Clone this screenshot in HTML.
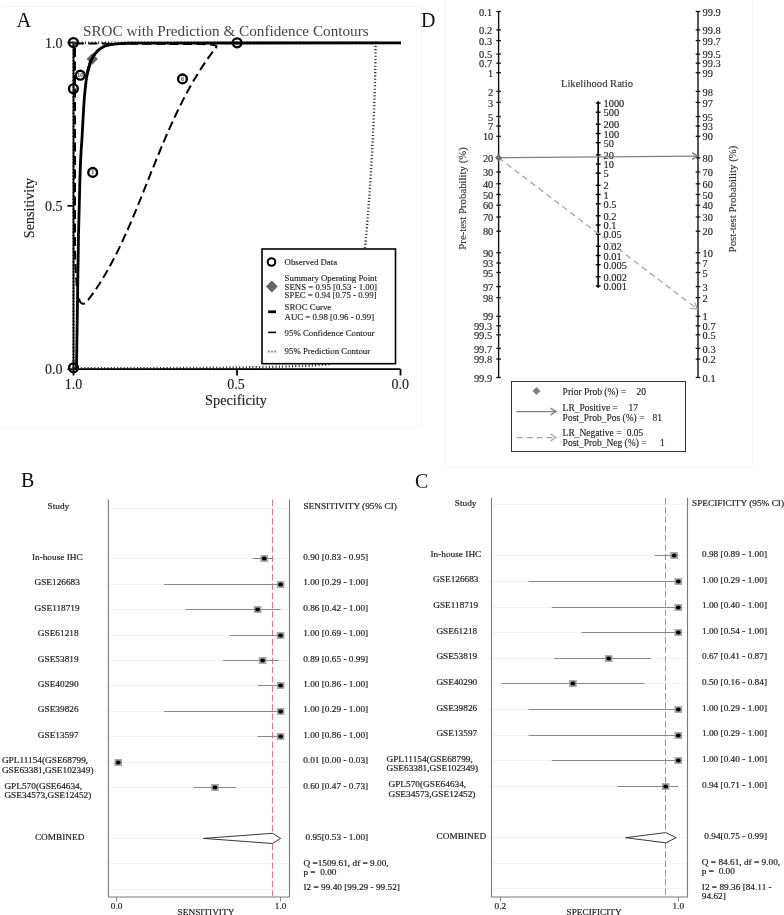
<!DOCTYPE html>
<html><head><meta charset="utf-8"><style>
html,body{margin:0;padding:0;background:#fff;width:784px;height:915px;overflow:hidden}
svg{display:block;position:absolute;left:0;top:0;will-change:transform}
text{font-family:"Liberation Serif", serif;white-space:pre;}
</style></head><body>
<svg width="784" height="915" viewBox="0 0 784 915">
<rect x="0" y="0" width="784" height="915" fill="#fff"/>
<path d="M0.5 6.5 H421.5 V427.5 H0.5" fill="none" stroke="#f6f6f6" stroke-width="1"/>
<path d="M444.5 0 V467 H752.5 V0" fill="none" stroke="#f6f6f6" stroke-width="1"/>
<text x="16.5" y="27" font-size="20.5" fill="#111">A</text>
<text x="83" y="35.5" font-size="15.2" fill="#444">SROC with Prediction &amp; Confidence Contours</text>
<path d="M73.5 368 L73.5 42.8 L375.5 42.8 C375.8 100 370 200 365 247 C360 300 352 345 330 364 C300 367.6 200 368.2 73.5 368.3" fill="none" stroke="#333" stroke-width="2.4" stroke-dasharray="1.1 2.2"/>
<path d="M73.5 42.5 V369.2 H400.5" fill="none" stroke="#000" stroke-width="1.8"/>
<path d="M67.5 42.5 H73.5" stroke="#000" stroke-width="1.8"/>
<path d="M67.5 205.8 H73.5" stroke="#000" stroke-width="1.8"/>
<path d="M67.5 369.2 H73.5" stroke="#000" stroke-width="1.8"/>
<path d="M73.5 369.2 V375.5" stroke="#000" stroke-width="1.8"/>
<path d="M237.0 369.2 V375.5" stroke="#000" stroke-width="1.8"/>
<path d="M400.5 369.2 V375.5" stroke="#000" stroke-width="1.8"/>
<text stroke="#222" stroke-width="0.14" x="62.5" y="47.5" font-size="14" text-anchor="end" fill="#222">1.0</text>
<text stroke="#222" stroke-width="0.14" x="62.5" y="210.8" font-size="14" text-anchor="end" fill="#222">0.5</text>
<text stroke="#222" stroke-width="0.14" x="62.5" y="374.2" font-size="14" text-anchor="end" fill="#222">0.0</text>
<text stroke="#222" stroke-width="0.14" x="73.5" y="388.8" font-size="14" text-anchor="middle" fill="#222">1.0</text>
<text stroke="#222" stroke-width="0.14" x="236.0" y="388.8" font-size="14" text-anchor="middle" fill="#222">0.5</text>
<text stroke="#222" stroke-width="0.14" x="400.2" y="388.8" font-size="14" text-anchor="middle" fill="#222">0.0</text>
<text stroke="#222" stroke-width="0.14" x="236" y="404.7" font-size="14.3" text-anchor="middle" fill="#222">Specificity</text>
<text stroke="#222" stroke-width="0.14" transform="translate(34.3 208) rotate(-90)" font-size="14.1" text-anchor="middle" fill="#222">Sensitivity</text>
<path d="M77 290 C76 275 75 262 75 245 L75 43.5 L200 44 C210 44.4 219.5 44.8 215.8 47.8 C156.5 123.5 140 234 86.8 301.7 C85 304 82 304.6 80.3 302 C79 300 78.3 295 77.6 289" fill="none" stroke="#000" stroke-width="2" stroke-dasharray="9 4.5" stroke-dashoffset="10"/>
<path d="M76.5 369 C77.2 320 77.8 280 78.5 235 C79 210 79.5 195 79.9 180 C80.5 160 81 150 81.9 140 C83 120 83.7 105 84.5 96 C85.3 88 86 80 87.2 74.3 C88 70 88.5 68 89.1 66.6 C90 63 90.8 61 91.8 59 C93 56.5 94 55 95.2 53.6 C96.5 52 98 50.3 99.8 49 C101.5 47.7 103 47 104.4 46.3 C106 45.6 108 45 109.8 44.8 C113 44.2 116 43.9 119.7 43.7 C123 43.4 127 43.3 130 43.2 L401 42.8" fill="none" stroke="#000" stroke-width="2.8"/>
<circle cx="73.4" cy="42.5" r="4.4" fill="none" stroke="#000" stroke-width="2.4"/>
<text stroke="#333" stroke-width="0.14" x="73.4" y="44.5" font-size="6" text-anchor="middle" fill="#333">9</text>
<circle cx="80.3" cy="75.2" r="4.4" fill="none" stroke="#000" stroke-width="2.4"/>
<text stroke="#333" stroke-width="0.14" x="80.3" y="77.2" font-size="6" text-anchor="middle" fill="#333">10</text>
<circle cx="73.4" cy="88.8" r="4.4" fill="none" stroke="#000" stroke-width="2.4"/>
<text stroke="#333" stroke-width="0.14" x="73.4" y="90.8" font-size="6" text-anchor="middle" fill="#333">3</text>
<circle cx="92.7" cy="172.4" r="4.4" fill="none" stroke="#000" stroke-width="2.4"/>
<text stroke="#333" stroke-width="0.14" x="92.7" y="174.4" font-size="6" text-anchor="middle" fill="#333">1</text>
<circle cx="182.5" cy="78.9" r="4.4" fill="none" stroke="#000" stroke-width="2.4"/>
<text stroke="#333" stroke-width="0.14" x="182.5" y="80.9" font-size="6" text-anchor="middle" fill="#333">6</text>
<circle cx="237.1" cy="42.8" r="4.4" fill="none" stroke="#000" stroke-width="2.4"/>
<text stroke="#333" stroke-width="0.14" x="237.1" y="44.8" font-size="6" text-anchor="middle" fill="#333">5</text>
<circle cx="73.5" cy="367.8" r="4.4" fill="none" stroke="#000" stroke-width="2.4"/>
<text stroke="#333" stroke-width="0.14" x="73.5" y="369.8" font-size="6" text-anchor="middle" fill="#333">8</text>
<path d="M92.2 53.3 L97.9 59 L92.2 64.7 L86.5 59 Z" fill="#666"/>
<path d="M87.2 74.3 C88 70 88.5 68 89.1 66.6 C90 63 90.8 61 91.8 59 C93 56.5 94 55 95.2 53.6" fill="none" stroke="#000" stroke-width="2.8"/>
<rect x="262" y="249" width="133.5" height="114.7" fill="#fff" stroke="#000" stroke-width="1.6"/>
<circle cx="271.5" cy="262" r="3.8" fill="#fff" stroke="#000" stroke-width="2"/>
<path d="M271.8 280.5 L277.8 286.5 L271.8 292.5 L265.8 286.5 Z" fill="#666"/>
<path d="M268.2 311.8 H276" stroke="#000" stroke-width="2.8"/>
<path d="M268.2 332.4 H276" stroke="#000" stroke-width="1.6"/>
<path d="M268.2 351.6 H276" stroke="#555" stroke-width="2" stroke-dasharray="1.2 2"/>
<text stroke="#222" stroke-width="0.14" x="284.6" y="264.5" font-size="8.8" fill="#222">Observed Data</text>
<text stroke="#222" stroke-width="0.14" x="284.6" y="280.8" font-size="8.8" fill="#222">Summary Operating Point</text>
<text stroke="#222" stroke-width="0.14" x="284.6" y="289.6" font-size="8.8" fill="#222">SENS = 0.95 [0.53 - 1.00]</text>
<text stroke="#222" stroke-width="0.14" x="284.6" y="298.3" font-size="8.8" fill="#222">SPEC = 0.94 [0.75 - 0.99]</text>
<text stroke="#222" stroke-width="0.14" x="284.6" y="310.4" font-size="8.8" fill="#222">SROC Curve</text>
<text stroke="#222" stroke-width="0.14" x="284.6" y="319.5" font-size="8.8" fill="#222">AUC = 0.98 [0.96 - 0.99]</text>
<text stroke="#222" stroke-width="0.14" x="284.6" y="335.5" font-size="8.8" fill="#222">95% Confidence Contour</text>
<text stroke="#222" stroke-width="0.14" x="284.6" y="354.4" font-size="8.8" fill="#222">95% Prediction Contour</text>
<text x="421" y="27" font-size="20" fill="#111">D</text>
<path d="M498.6 11.5 V377.5" stroke="#111" stroke-width="1.4"/>
<path d="M698.0 11.5 V377.5" stroke="#111" stroke-width="1.4"/>
<path d="M496.3 11.5 H500.90000000000003" stroke="#111" stroke-width="1.3"/>
<text stroke="#222" stroke-width="0.14" x="492.1" y="15.6" font-size="10.4" text-anchor="end" fill="#222">0.1</text>
<path d="M695.7 377.5 H700.3" stroke="#111" stroke-width="1.3"/>
<text stroke="#222" stroke-width="0.14" x="702.6" y="381.6" font-size="10.4" fill="#222">0.1</text>
<path d="M496.3 29.9 H500.90000000000003" stroke="#111" stroke-width="1.3"/>
<text stroke="#222" stroke-width="0.14" x="492.1" y="34.0" font-size="10.4" text-anchor="end" fill="#222">0.2</text>
<path d="M695.7 359.1 H700.3" stroke="#111" stroke-width="1.3"/>
<text stroke="#222" stroke-width="0.14" x="702.6" y="363.2" font-size="10.4" fill="#222">0.2</text>
<path d="M496.3 40.6 H500.90000000000003" stroke="#111" stroke-width="1.3"/>
<text stroke="#222" stroke-width="0.14" x="492.1" y="44.7" font-size="10.4" text-anchor="end" fill="#222">0.3</text>
<path d="M695.7 348.4 H700.3" stroke="#111" stroke-width="1.3"/>
<text stroke="#222" stroke-width="0.14" x="702.6" y="352.5" font-size="10.4" fill="#222">0.3</text>
<path d="M496.3 54.2 H500.90000000000003" stroke="#111" stroke-width="1.3"/>
<text stroke="#222" stroke-width="0.14" x="492.1" y="58.3" font-size="10.4" text-anchor="end" fill="#222">0.5</text>
<path d="M695.7 334.8 H700.3" stroke="#111" stroke-width="1.3"/>
<text stroke="#222" stroke-width="0.14" x="702.6" y="338.9" font-size="10.4" fill="#222">0.5</text>
<path d="M496.3 63.2 H500.90000000000003" stroke="#111" stroke-width="1.3"/>
<text stroke="#222" stroke-width="0.14" x="492.1" y="67.3" font-size="10.4" text-anchor="end" fill="#222">0.7</text>
<path d="M695.7 325.8 H700.3" stroke="#111" stroke-width="1.3"/>
<text stroke="#222" stroke-width="0.14" x="702.6" y="329.9" font-size="10.4" fill="#222">0.7</text>
<path d="M496.3 72.7 H500.90000000000003" stroke="#111" stroke-width="1.3"/>
<text stroke="#222" stroke-width="0.14" x="493.3" y="76.8" font-size="10.4" text-anchor="end" fill="#222">1</text>
<path d="M695.7 316.3 H700.3" stroke="#111" stroke-width="1.3"/>
<text stroke="#222" stroke-width="0.14" x="702.6" y="320.4" font-size="10.4" fill="#222">1</text>
<path d="M496.3 91.4 H500.90000000000003" stroke="#111" stroke-width="1.3"/>
<text stroke="#222" stroke-width="0.14" x="493.3" y="95.5" font-size="10.4" text-anchor="end" fill="#222">2</text>
<path d="M695.7 297.6 H700.3" stroke="#111" stroke-width="1.3"/>
<text stroke="#222" stroke-width="0.14" x="702.6" y="301.7" font-size="10.4" fill="#222">2</text>
<path d="M496.3 102.4 H500.90000000000003" stroke="#111" stroke-width="1.3"/>
<text stroke="#222" stroke-width="0.14" x="493.3" y="106.5" font-size="10.4" text-anchor="end" fill="#222">3</text>
<path d="M695.7 286.6 H700.3" stroke="#111" stroke-width="1.3"/>
<text stroke="#222" stroke-width="0.14" x="702.6" y="290.7" font-size="10.4" fill="#222">3</text>
<path d="M496.3 116.5 H500.90000000000003" stroke="#111" stroke-width="1.3"/>
<text stroke="#222" stroke-width="0.14" x="493.3" y="120.6" font-size="10.4" text-anchor="end" fill="#222">5</text>
<path d="M695.7 272.5 H700.3" stroke="#111" stroke-width="1.3"/>
<text stroke="#222" stroke-width="0.14" x="702.6" y="276.6" font-size="10.4" fill="#222">5</text>
<path d="M496.3 126.0 H500.90000000000003" stroke="#111" stroke-width="1.3"/>
<text stroke="#222" stroke-width="0.14" x="493.3" y="130.1" font-size="10.4" text-anchor="end" fill="#222">7</text>
<path d="M695.7 263.0 H700.3" stroke="#111" stroke-width="1.3"/>
<text stroke="#222" stroke-width="0.14" x="702.6" y="267.1" font-size="10.4" fill="#222">7</text>
<path d="M496.3 136.3 H500.90000000000003" stroke="#111" stroke-width="1.3"/>
<text stroke="#222" stroke-width="0.14" x="493.3" y="140.4" font-size="10.4" text-anchor="end" fill="#222">10</text>
<path d="M695.7 252.7 H700.3" stroke="#111" stroke-width="1.3"/>
<text stroke="#222" stroke-width="0.14" x="702.6" y="256.8" font-size="10.4" fill="#222">10</text>
<path d="M496.3 157.8 H500.90000000000003" stroke="#111" stroke-width="1.3"/>
<text stroke="#222" stroke-width="0.14" x="493.3" y="161.9" font-size="10.4" text-anchor="end" fill="#222">20</text>
<path d="M695.7 231.2 H700.3" stroke="#111" stroke-width="1.3"/>
<text stroke="#222" stroke-width="0.14" x="702.6" y="235.3" font-size="10.4" fill="#222">20</text>
<path d="M496.3 172.0 H500.90000000000003" stroke="#111" stroke-width="1.3"/>
<text stroke="#222" stroke-width="0.14" x="493.3" y="176.1" font-size="10.4" text-anchor="end" fill="#222">30</text>
<path d="M695.7 217.0 H700.3" stroke="#111" stroke-width="1.3"/>
<text stroke="#222" stroke-width="0.14" x="702.6" y="221.1" font-size="10.4" fill="#222">30</text>
<path d="M496.3 183.8 H500.90000000000003" stroke="#111" stroke-width="1.3"/>
<text stroke="#222" stroke-width="0.14" x="493.3" y="187.9" font-size="10.4" text-anchor="end" fill="#222">40</text>
<path d="M695.7 205.2 H700.3" stroke="#111" stroke-width="1.3"/>
<text stroke="#222" stroke-width="0.14" x="702.6" y="209.3" font-size="10.4" fill="#222">40</text>
<path d="M496.3 194.5 H500.90000000000003" stroke="#111" stroke-width="1.3"/>
<text stroke="#222" stroke-width="0.14" x="493.3" y="198.6" font-size="10.4" text-anchor="end" fill="#222">50</text>
<path d="M695.7 194.5 H700.3" stroke="#111" stroke-width="1.3"/>
<text stroke="#222" stroke-width="0.14" x="702.6" y="198.6" font-size="10.4" fill="#222">50</text>
<path d="M496.3 205.2 H500.90000000000003" stroke="#111" stroke-width="1.3"/>
<text stroke="#222" stroke-width="0.14" x="493.3" y="209.3" font-size="10.4" text-anchor="end" fill="#222">60</text>
<path d="M695.7 183.8 H700.3" stroke="#111" stroke-width="1.3"/>
<text stroke="#222" stroke-width="0.14" x="702.6" y="187.9" font-size="10.4" fill="#222">60</text>
<path d="M496.3 217.0 H500.90000000000003" stroke="#111" stroke-width="1.3"/>
<text stroke="#222" stroke-width="0.14" x="493.3" y="221.1" font-size="10.4" text-anchor="end" fill="#222">70</text>
<path d="M695.7 172.0 H700.3" stroke="#111" stroke-width="1.3"/>
<text stroke="#222" stroke-width="0.14" x="702.6" y="176.1" font-size="10.4" fill="#222">70</text>
<path d="M496.3 231.2 H500.90000000000003" stroke="#111" stroke-width="1.3"/>
<text stroke="#222" stroke-width="0.14" x="493.3" y="235.3" font-size="10.4" text-anchor="end" fill="#222">80</text>
<path d="M695.7 157.8 H700.3" stroke="#111" stroke-width="1.3"/>
<text stroke="#222" stroke-width="0.14" x="702.6" y="161.9" font-size="10.4" fill="#222">80</text>
<path d="M496.3 252.7 H500.90000000000003" stroke="#111" stroke-width="1.3"/>
<text stroke="#222" stroke-width="0.14" x="493.3" y="256.8" font-size="10.4" text-anchor="end" fill="#222">90</text>
<path d="M695.7 136.3 H700.3" stroke="#111" stroke-width="1.3"/>
<text stroke="#222" stroke-width="0.14" x="702.6" y="140.4" font-size="10.4" fill="#222">90</text>
<path d="M496.3 263.0 H500.90000000000003" stroke="#111" stroke-width="1.3"/>
<text stroke="#222" stroke-width="0.14" x="493.3" y="267.1" font-size="10.4" text-anchor="end" fill="#222">93</text>
<path d="M695.7 126.0 H700.3" stroke="#111" stroke-width="1.3"/>
<text stroke="#222" stroke-width="0.14" x="702.6" y="130.1" font-size="10.4" fill="#222">93</text>
<path d="M496.3 272.5 H500.90000000000003" stroke="#111" stroke-width="1.3"/>
<text stroke="#222" stroke-width="0.14" x="493.3" y="276.6" font-size="10.4" text-anchor="end" fill="#222">95</text>
<path d="M695.7 116.5 H700.3" stroke="#111" stroke-width="1.3"/>
<text stroke="#222" stroke-width="0.14" x="702.6" y="120.6" font-size="10.4" fill="#222">95</text>
<path d="M496.3 286.6 H500.90000000000003" stroke="#111" stroke-width="1.3"/>
<text stroke="#222" stroke-width="0.14" x="493.3" y="290.7" font-size="10.4" text-anchor="end" fill="#222">97</text>
<path d="M695.7 102.4 H700.3" stroke="#111" stroke-width="1.3"/>
<text stroke="#222" stroke-width="0.14" x="702.6" y="106.5" font-size="10.4" fill="#222">97</text>
<path d="M496.3 297.6 H500.90000000000003" stroke="#111" stroke-width="1.3"/>
<text stroke="#222" stroke-width="0.14" x="493.3" y="301.7" font-size="10.4" text-anchor="end" fill="#222">98</text>
<path d="M695.7 91.4 H700.3" stroke="#111" stroke-width="1.3"/>
<text stroke="#222" stroke-width="0.14" x="702.6" y="95.5" font-size="10.4" fill="#222">98</text>
<path d="M496.3 316.3 H500.90000000000003" stroke="#111" stroke-width="1.3"/>
<text stroke="#222" stroke-width="0.14" x="493.3" y="320.4" font-size="10.4" text-anchor="end" fill="#222">99</text>
<path d="M695.7 72.7 H700.3" stroke="#111" stroke-width="1.3"/>
<text stroke="#222" stroke-width="0.14" x="702.6" y="76.8" font-size="10.4" fill="#222">99</text>
<path d="M496.3 325.8 H500.90000000000003" stroke="#111" stroke-width="1.3"/>
<text stroke="#222" stroke-width="0.14" x="492.1" y="329.9" font-size="10.4" text-anchor="end" fill="#222">99.3</text>
<path d="M695.7 63.2 H700.3" stroke="#111" stroke-width="1.3"/>
<text stroke="#222" stroke-width="0.14" x="702.6" y="67.3" font-size="10.4" fill="#222">99.3</text>
<path d="M496.3 334.8 H500.90000000000003" stroke="#111" stroke-width="1.3"/>
<text stroke="#222" stroke-width="0.14" x="492.1" y="338.9" font-size="10.4" text-anchor="end" fill="#222">99.5</text>
<path d="M695.7 54.2 H700.3" stroke="#111" stroke-width="1.3"/>
<text stroke="#222" stroke-width="0.14" x="702.6" y="58.3" font-size="10.4" fill="#222">99.5</text>
<path d="M496.3 348.4 H500.90000000000003" stroke="#111" stroke-width="1.3"/>
<text stroke="#222" stroke-width="0.14" x="492.1" y="352.5" font-size="10.4" text-anchor="end" fill="#222">99.7</text>
<path d="M695.7 40.6 H700.3" stroke="#111" stroke-width="1.3"/>
<text stroke="#222" stroke-width="0.14" x="702.6" y="44.7" font-size="10.4" fill="#222">99.7</text>
<path d="M496.3 359.1 H500.90000000000003" stroke="#111" stroke-width="1.3"/>
<text stroke="#222" stroke-width="0.14" x="492.1" y="363.2" font-size="10.4" text-anchor="end" fill="#222">99.8</text>
<path d="M695.7 29.9 H700.3" stroke="#111" stroke-width="1.3"/>
<text stroke="#222" stroke-width="0.14" x="702.6" y="34.0" font-size="10.4" fill="#222">99.8</text>
<path d="M496.3 377.5 H500.90000000000003" stroke="#111" stroke-width="1.3"/>
<text stroke="#222" stroke-width="0.14" x="492.1" y="381.6" font-size="10.4" text-anchor="end" fill="#222">99.9</text>
<path d="M695.7 11.5 H700.3" stroke="#111" stroke-width="1.3"/>
<text stroke="#222" stroke-width="0.14" x="702.6" y="15.6" font-size="10.4" fill="#222">99.9</text>
<path d="M598.2 101.2 V287.8" stroke="#000" stroke-width="1.7"/>
<path d="M595.8000000000001 103.0 H600.6" stroke="#000" stroke-width="1.4"/>
<text stroke="#222" stroke-width="0.14" x="603.5" y="107.1" font-size="10.4" fill="#222">1000</text>
<path d="M595.8000000000001 112.2 H600.6" stroke="#000" stroke-width="1.4"/>
<text stroke="#222" stroke-width="0.14" x="603.5" y="116.3" font-size="10.4" fill="#222">500</text>
<path d="M595.8000000000001 124.3 H600.6" stroke="#000" stroke-width="1.4"/>
<text stroke="#222" stroke-width="0.14" x="603.5" y="128.4" font-size="10.4" fill="#222">200</text>
<path d="M595.8000000000001 133.5 H600.6" stroke="#000" stroke-width="1.4"/>
<text stroke="#222" stroke-width="0.14" x="603.5" y="137.6" font-size="10.4" fill="#222">100</text>
<path d="M595.8000000000001 142.7 H600.6" stroke="#000" stroke-width="1.4"/>
<text stroke="#222" stroke-width="0.14" x="603.5" y="146.8" font-size="10.4" fill="#222">50</text>
<path d="M595.8000000000001 154.8 H600.6" stroke="#000" stroke-width="1.4"/>
<text stroke="#222" stroke-width="0.14" x="603.5" y="158.9" font-size="10.4" fill="#222">20</text>
<path d="M595.8000000000001 164.0 H600.6" stroke="#000" stroke-width="1.4"/>
<text stroke="#222" stroke-width="0.14" x="603.5" y="168.1" font-size="10.4" fill="#222">10</text>
<path d="M595.8000000000001 173.2 H600.6" stroke="#000" stroke-width="1.4"/>
<text stroke="#222" stroke-width="0.14" x="603.5" y="177.3" font-size="10.4" fill="#222">5</text>
<path d="M595.8000000000001 185.3 H600.6" stroke="#000" stroke-width="1.4"/>
<text stroke="#222" stroke-width="0.14" x="603.5" y="189.4" font-size="10.4" fill="#222">2</text>
<path d="M595.8000000000001 194.5 H600.6" stroke="#000" stroke-width="1.4"/>
<text stroke="#222" stroke-width="0.14" x="603.5" y="198.6" font-size="10.4" fill="#222">1</text>
<path d="M595.8000000000001 203.7 H600.6" stroke="#000" stroke-width="1.4"/>
<text stroke="#222" stroke-width="0.14" x="603.5" y="207.8" font-size="10.4" fill="#222">0.5</text>
<path d="M595.8000000000001 215.8 H600.6" stroke="#000" stroke-width="1.4"/>
<text stroke="#222" stroke-width="0.14" x="603.5" y="219.9" font-size="10.4" fill="#222">0.2</text>
<path d="M595.8000000000001 225.0 H600.6" stroke="#000" stroke-width="1.4"/>
<text stroke="#222" stroke-width="0.14" x="603.5" y="229.1" font-size="10.4" fill="#222">0.1</text>
<path d="M595.8000000000001 234.2 H600.6" stroke="#000" stroke-width="1.4"/>
<text stroke="#222" stroke-width="0.14" x="603.5" y="238.3" font-size="10.4" fill="#222">0.05</text>
<path d="M595.8000000000001 246.3 H600.6" stroke="#000" stroke-width="1.4"/>
<text stroke="#222" stroke-width="0.14" x="603.5" y="250.4" font-size="10.4" fill="#222">0.02</text>
<path d="M595.8000000000001 255.5 H600.6" stroke="#000" stroke-width="1.4"/>
<text stroke="#222" stroke-width="0.14" x="603.5" y="259.6" font-size="10.4" fill="#222">0.01</text>
<path d="M595.8000000000001 264.7 H600.6" stroke="#000" stroke-width="1.4"/>
<text stroke="#222" stroke-width="0.14" x="603.5" y="268.8" font-size="10.4" fill="#222">0.005</text>
<path d="M595.8000000000001 276.8 H600.6" stroke="#000" stroke-width="1.4"/>
<text stroke="#222" stroke-width="0.14" x="603.5" y="280.9" font-size="10.4" fill="#222">0.002</text>
<path d="M595.8000000000001 286.0 H600.6" stroke="#000" stroke-width="1.4"/>
<text stroke="#222" stroke-width="0.14" x="603.5" y="290.1" font-size="10.4" fill="#222">0.001</text>
<text stroke="#333" stroke-width="0.14" x="597" y="87.2" font-size="10.6" text-anchor="middle" fill="#333">Likelihood Ratio</text>
<text stroke="#333" stroke-width="0.14" transform="translate(465.6 198.4) rotate(-90)" font-size="10.8" text-anchor="middle" fill="#333">Pre-test Probability (%)</text>
<text stroke="#333" stroke-width="0.14" transform="translate(736.3 199) rotate(-90)" font-size="10.8" text-anchor="middle" fill="#333">Post-test Probability (%)</text>
<path d="M498.6 157.8 L697.5 156.1" stroke="#808080" stroke-width="1.3"/>
<path d="M692.0 152.6 L697.5 156.1 L692.0 159.6" fill="none" stroke="#808080" stroke-width="1.3"/>
<path d="M498.6 157.8 L697.5 309.1" stroke="#a0a0a0" stroke-width="1.2" stroke-dasharray="6 4"/>
<path d="M694.8 302.7 L697.5 309.1 L690.6 308.3" fill="none" stroke="#a0a0a0" stroke-width="1.2"/>
<path d="M498.6 154.2 L502.20000000000005 157.8 L498.6 161.4 L495.0 157.8 Z" fill="#707070"/>
<rect x="511.5" y="381.5" width="174" height="70" fill="#fff" stroke="#333" stroke-width="1"/>
<path d="M536.5 387 L540.5 391 L536.5 395 L532.5 391 Z" fill="#808080"/>
<path d="M516.6 411.6 H556" stroke="#808080" stroke-width="1.3"/><path d="M550.5 408.1 L556 411.6 L550.5 415.1" fill="none" stroke="#808080" stroke-width="1.3"/>
<path d="M516.6 437.6 H556" stroke="#a0a0a0" stroke-width="1.2" stroke-dasharray="6 4"/><path d="M550.5 434.1 L556 437.6 L550.5 441.1" fill="none" stroke="#a0a0a0" stroke-width="1.2"/>
<text stroke="#222" stroke-width="0.14" x="562.6" y="394.9" font-size="9.5" fill="#222">Prior Prob (%) =</text>
<text stroke="#222" stroke-width="0.14" x="636.6" y="394.9" font-size="9.5" fill="#222">20</text>
<text stroke="#222" stroke-width="0.14" x="562.6" y="410.6" font-size="9.5" fill="#222">LR_Positive =</text>
<text stroke="#222" stroke-width="0.14" x="628.6" y="410.6" font-size="9.5" fill="#222">17</text>
<text stroke="#222" stroke-width="0.14" x="562.6" y="420.5" font-size="9.5" fill="#222">Post_Prob_Pos (%) =</text>
<text stroke="#222" stroke-width="0.14" x="652.4" y="420.5" font-size="9.5" fill="#222">81</text>
<text stroke="#222" stroke-width="0.14" x="562.6" y="435.8" font-size="9.5" fill="#222">LR_Negative =</text>
<text stroke="#222" stroke-width="0.14" x="626.7" y="435.8" font-size="9.5" fill="#222">0.05</text>
<text stroke="#222" stroke-width="0.14" x="562.6" y="445.8" font-size="9.5" fill="#222">Post_Prob_Neg (%) =</text>
<text stroke="#222" stroke-width="0.14" x="660" y="445.8" font-size="9.5" fill="#222">1</text>
<text x="21" y="487.3" font-size="20" fill="#111">B</text>
<path d="M108.4 508.5 H289.5" stroke="#f1f4f3" stroke-width="1"/>
<path d="M108.4 558.5 H289.5" stroke="#f1f4f3" stroke-width="1"/>
<path d="M108.4 584.5 H289.5" stroke="#f1f4f3" stroke-width="1"/>
<path d="M108.4 609.5 H289.5" stroke="#f1f4f3" stroke-width="1"/>
<path d="M108.4 635.5 H289.5" stroke="#f1f4f3" stroke-width="1"/>
<path d="M108.4 660.5 H289.5" stroke="#f1f4f3" stroke-width="1"/>
<path d="M108.4 685.5 H289.5" stroke="#f1f4f3" stroke-width="1"/>
<path d="M108.4 711.5 H289.5" stroke="#f1f4f3" stroke-width="1"/>
<path d="M108.4 736.5 H289.5" stroke="#f1f4f3" stroke-width="1"/>
<path d="M108.4 762.5 H289.5" stroke="#f1f4f3" stroke-width="1"/>
<path d="M108.4 787.5 H289.5" stroke="#f1f4f3" stroke-width="1"/>
<path d="M108.4 838.5 H289.5" stroke="#f1f4f3" stroke-width="1"/>
<path d="M108.4 863.5 H289.5" stroke="#f1f4f3" stroke-width="1"/>
<path d="M108.4 889.5 H289.5" stroke="#f1f4f3" stroke-width="1"/>
<path d="M108.4 499.6 V897 H289.5 V499.6" fill="none" stroke="#7a7a7a" stroke-width="1.1"/>
<path d="M272.5 499.6 V897" stroke="#e07c92" stroke-width="1" stroke-dasharray="6.5 2.8"/>
<text transform="translate(47.50 508.80) scale(1.1 1)" font-size="8.45" fill="#222" stroke="#222" stroke-width="0.18">Study</text>
<text transform="translate(303.40 508.80) scale(1.1 1)" font-size="8.45" fill="#222" stroke="#222" stroke-width="0.18">SENSITIVITY (95% CI)</text>
<path d="M252.7 558.5 H272.4" stroke="#888" stroke-width="1"/>
<rect x="260.4" y="555.1" width="7.6" height="6.8" fill="#a0a0a0"/>
<ellipse cx="264.2" cy="558.5" rx="2.4" ry="2.1" fill="#000"/>
<text transform="translate(368.20 560.02) scale(1.1 1)" font-size="8.45" text-anchor="end" fill="#222" stroke="#222" stroke-width="0.18">0.90 [0.83 - 0.95]</text>
<path d="M164.2 584.5 H280.6" stroke="#888" stroke-width="1"/>
<rect x="276.8" y="581.1" width="7.6" height="6.8" fill="#a0a0a0"/>
<ellipse cx="280.6" cy="584.5" rx="2.4" ry="2.1" fill="#000"/>
<text transform="translate(368.20 585.43) scale(1.1 1)" font-size="8.45" text-anchor="end" fill="#222" stroke="#222" stroke-width="0.18">1.00 [0.29 - 1.00]</text>
<path d="M185.5 609.5 H280.6" stroke="#888" stroke-width="1"/>
<rect x="253.8" y="606.1" width="7.6" height="6.8" fill="#a0a0a0"/>
<ellipse cx="257.6" cy="609.5" rx="2.4" ry="2.1" fill="#000"/>
<text transform="translate(368.20 610.84) scale(1.1 1)" font-size="8.45" text-anchor="end" fill="#222" stroke="#222" stroke-width="0.18">0.86 [0.42 - 1.00]</text>
<path d="M229.8 635.5 H280.6" stroke="#888" stroke-width="1"/>
<rect x="276.8" y="632.1" width="7.6" height="6.8" fill="#a0a0a0"/>
<ellipse cx="280.6" cy="635.5" rx="2.4" ry="2.1" fill="#000"/>
<text transform="translate(368.20 636.25) scale(1.1 1)" font-size="8.45" text-anchor="end" fill="#222" stroke="#222" stroke-width="0.18">1.00 [0.69 - 1.00]</text>
<path d="M223.2 660.5 H279.0" stroke="#888" stroke-width="1"/>
<rect x="258.8" y="657.1" width="7.6" height="6.8" fill="#a0a0a0"/>
<ellipse cx="262.6" cy="660.5" rx="2.4" ry="2.1" fill="#000"/>
<text transform="translate(368.20 661.66) scale(1.1 1)" font-size="8.45" text-anchor="end" fill="#222" stroke="#222" stroke-width="0.18">0.89 [0.65 - 0.99]</text>
<path d="M257.6 685.5 H280.6" stroke="#888" stroke-width="1"/>
<rect x="276.8" y="682.1" width="7.6" height="6.8" fill="#a0a0a0"/>
<ellipse cx="280.6" cy="685.5" rx="2.4" ry="2.1" fill="#000"/>
<text transform="translate(368.20 687.07) scale(1.1 1)" font-size="8.45" text-anchor="end" fill="#222" stroke="#222" stroke-width="0.18">1.00 [0.86 - 1.00]</text>
<path d="M164.2 711.5 H280.6" stroke="#888" stroke-width="1"/>
<rect x="276.8" y="708.1" width="7.6" height="6.8" fill="#a0a0a0"/>
<ellipse cx="280.6" cy="711.5" rx="2.4" ry="2.1" fill="#000"/>
<text transform="translate(368.20 712.48) scale(1.1 1)" font-size="8.45" text-anchor="end" fill="#222" stroke="#222" stroke-width="0.18">1.00 [0.29 - 1.00]</text>
<path d="M257.6 736.5 H280.6" stroke="#888" stroke-width="1"/>
<rect x="276.8" y="733.1" width="7.6" height="6.8" fill="#a0a0a0"/>
<ellipse cx="280.6" cy="736.5" rx="2.4" ry="2.1" fill="#000"/>
<text transform="translate(368.20 737.89) scale(1.1 1)" font-size="8.45" text-anchor="end" fill="#222" stroke="#222" stroke-width="0.18">1.00 [0.86 - 1.00]</text>
<path d="M116.6 762.5 H121.5" stroke="#888" stroke-width="1"/>
<rect x="114.4" y="759.1" width="7.6" height="6.8" fill="#a0a0a0"/>
<ellipse cx="118.2" cy="762.5" rx="2.4" ry="2.1" fill="#000"/>
<text transform="translate(368.20 763.30) scale(1.1 1)" font-size="8.45" text-anchor="end" fill="#222" stroke="#222" stroke-width="0.18">0.01 [0.00 - 0.03]</text>
<path d="M193.7 787.5 H236.3" stroke="#888" stroke-width="1"/>
<rect x="211.2" y="784.1" width="7.6" height="6.8" fill="#a0a0a0"/>
<ellipse cx="215.0" cy="787.5" rx="2.4" ry="2.1" fill="#000"/>
<text transform="translate(368.20 788.71) scale(1.1 1)" font-size="8.45" text-anchor="end" fill="#222" stroke="#222" stroke-width="0.18">0.60 [0.47 - 0.73]</text>
<text transform="translate(31.90 559.92) scale(1.1 1)" font-size="8.45" fill="#222" stroke="#222" stroke-width="0.18">In-house IHC</text>
<text transform="translate(34.50 585.33) scale(1.1 1)" font-size="8.45" fill="#222" stroke="#222" stroke-width="0.18">GSE126683</text>
<text transform="translate(34.60 610.74) scale(1.1 1)" font-size="8.45" fill="#222" stroke="#222" stroke-width="0.18">GSE118719</text>
<text transform="translate(37.80 636.15) scale(1.1 1)" font-size="8.45" fill="#222" stroke="#222" stroke-width="0.18">GSE61218</text>
<text transform="translate(37.80 661.56) scale(1.1 1)" font-size="8.45" fill="#222" stroke="#222" stroke-width="0.18">GSE53819</text>
<text transform="translate(37.80 686.97) scale(1.1 1)" font-size="8.45" fill="#222" stroke="#222" stroke-width="0.18">GSE40290</text>
<text transform="translate(37.80 712.38) scale(1.1 1)" font-size="8.45" fill="#222" stroke="#222" stroke-width="0.18">GSE39826</text>
<text transform="translate(37.80 737.79) scale(1.1 1)" font-size="8.45" fill="#222" stroke="#222" stroke-width="0.18">GSE13597</text>
<text transform="translate(1.90 763.20) scale(1.1 1)" font-size="8.45" fill="#222" stroke="#222" stroke-width="0.18">GPL11154(GSE68799,</text>
<text transform="translate(1.90 772.70) scale(1.1 1)" font-size="8.45" fill="#222" stroke="#222" stroke-width="0.18">GSE63381,GSE102349)</text>
<text transform="translate(4.40 788.61) scale(1.1 1)" font-size="8.45" fill="#222" stroke="#222" stroke-width="0.18">GPL570(GSE64634,</text>
<text transform="translate(4.40 798.11) scale(1.1 1)" font-size="8.45" fill="#222" stroke="#222" stroke-width="0.18">GSE34573,GSE12452)</text>
<path d="M203.5 838.4 L272.4 833.3 L280.6 838.4 L272.4 843.5 Z" fill="#fff" stroke="#222" stroke-width="0.9"/>
<text transform="translate(34.90 839.63) scale(1.1 1)" font-size="8.45" fill="#222" stroke="#222" stroke-width="0.18">COMBINED</text>
<text transform="translate(305.50 839.63) scale(1.1 1)" font-size="8.45" fill="#222" stroke="#222" stroke-width="0.18">0.95[0.53 - 1.00]</text>
<text transform="translate(303.40 865.60) scale(1.1 1)" font-size="8.45" fill="#222" stroke="#222" stroke-width="0.18">Q =1509.61, df = 9.00,</text>
<text transform="translate(303.40 874.70) scale(1.1 1)" font-size="8.45" fill="#222" stroke="#222" stroke-width="0.18">p =  0.00</text>
<text transform="translate(303.40 890.20) scale(1.1 1)" font-size="8.45" fill="#222" stroke="#222" stroke-width="0.18">I2 = 99.40 [99.29 - 99.52]</text>
<path d="M116.5 897 V901.5" stroke="#8a8a8a" stroke-width="1"/>
<text transform="translate(116.60 908.60) scale(1.1 1)" font-size="8.45" text-anchor="middle" fill="#222" stroke="#222" stroke-width="0.18">0.0</text>
<path d="M280.5 897 V901.5" stroke="#8a8a8a" stroke-width="1"/>
<text transform="translate(280.60 908.60) scale(1.1 1)" font-size="8.45" text-anchor="middle" fill="#222" stroke="#222" stroke-width="0.18">1.0</text>
<text transform="translate(177.60 914.80) scale(1.1 1)" font-size="8.45" fill="#222" stroke="#222" stroke-width="0.18">SENSITIVITY</text>
<text x="415" y="488" font-size="20" fill="#111">C</text>
<path d="M491.5 504.5 H687.5" stroke="#f1f4f3" stroke-width="1"/>
<path d="M491.5 555.5 H687.5" stroke="#f1f4f3" stroke-width="1"/>
<path d="M491.5 581.5 H687.5" stroke="#f1f4f3" stroke-width="1"/>
<path d="M491.5 607.5 H687.5" stroke="#f1f4f3" stroke-width="1"/>
<path d="M491.5 632.5 H687.5" stroke="#f1f4f3" stroke-width="1"/>
<path d="M491.5 658.5 H687.5" stroke="#f1f4f3" stroke-width="1"/>
<path d="M491.5 683.5 H687.5" stroke="#f1f4f3" stroke-width="1"/>
<path d="M491.5 709.5 H687.5" stroke="#f1f4f3" stroke-width="1"/>
<path d="M491.5 735.5 H687.5" stroke="#f1f4f3" stroke-width="1"/>
<path d="M491.5 760.5 H687.5" stroke="#f1f4f3" stroke-width="1"/>
<path d="M491.5 786.5 H687.5" stroke="#f1f4f3" stroke-width="1"/>
<path d="M491.5 837.5 H687.5" stroke="#f1f4f3" stroke-width="1"/>
<path d="M491.5 863.5 H687.5" stroke="#f1f4f3" stroke-width="1"/>
<path d="M491.5 888.5 H687.5" stroke="#f1f4f3" stroke-width="1"/>
<path d="M491.5 497.8 V897 H687.5 V497.8" fill="none" stroke="#7a7a7a" stroke-width="1.1"/>
<path d="M665.5 497.8 V897" stroke="#e07c92" stroke-width="1" stroke-dasharray="6.5 2.8"/>
<text transform="translate(454.80 505.90) scale(1.1 1)" font-size="8.45" fill="#222" stroke="#222" stroke-width="0.18">Study</text>
<text transform="translate(692.00 505.90) scale(1.1 1)" font-size="8.45" fill="#222" stroke="#222" stroke-width="0.18">SPECIFICITY (95% CI)</text>
<path d="M655.1 555.5 H678.3" stroke="#888" stroke-width="1"/>
<rect x="670.3" y="552.1" width="7.6" height="6.8" fill="#a0a0a0"/>
<ellipse cx="674.1" cy="555.5" rx="2.4" ry="2.1" fill="#000"/>
<text transform="translate(767.00 556.94) scale(1.1 1)" font-size="8.45" text-anchor="end" fill="#222" stroke="#222" stroke-width="0.18">0.98 [0.89 - 1.00]</text>
<path d="M528.6 581.5 H678.3" stroke="#888" stroke-width="1"/>
<rect x="674.5" y="578.1" width="7.6" height="6.8" fill="#a0a0a0"/>
<ellipse cx="678.3" cy="581.5" rx="2.4" ry="2.1" fill="#000"/>
<text transform="translate(767.00 582.56) scale(1.1 1)" font-size="8.45" text-anchor="end" fill="#222" stroke="#222" stroke-width="0.18">1.00 [0.29 - 1.00]</text>
<path d="M551.8 607.5 H678.3" stroke="#888" stroke-width="1"/>
<rect x="674.5" y="604.1" width="7.6" height="6.8" fill="#a0a0a0"/>
<ellipse cx="678.3" cy="607.5" rx="2.4" ry="2.1" fill="#000"/>
<text transform="translate(767.00 608.18) scale(1.1 1)" font-size="8.45" text-anchor="end" fill="#222" stroke="#222" stroke-width="0.18">1.00 [0.40 - 1.00]</text>
<path d="M581.3 632.5 H678.3" stroke="#888" stroke-width="1"/>
<rect x="674.5" y="629.1" width="7.6" height="6.8" fill="#a0a0a0"/>
<ellipse cx="678.3" cy="632.5" rx="2.4" ry="2.1" fill="#000"/>
<text transform="translate(767.00 633.80) scale(1.1 1)" font-size="8.45" text-anchor="end" fill="#222" stroke="#222" stroke-width="0.18">1.00 [0.54 - 1.00]</text>
<path d="M553.9 658.5 H650.9" stroke="#888" stroke-width="1"/>
<rect x="604.9" y="655.1" width="7.6" height="6.8" fill="#a0a0a0"/>
<ellipse cx="608.7" cy="658.5" rx="2.4" ry="2.1" fill="#000"/>
<text transform="translate(767.00 659.42) scale(1.1 1)" font-size="8.45" text-anchor="end" fill="#222" stroke="#222" stroke-width="0.18">0.67 [0.41 - 0.87]</text>
<path d="M501.2 683.5 H644.6" stroke="#888" stroke-width="1"/>
<rect x="569.1" y="680.1" width="7.6" height="6.8" fill="#a0a0a0"/>
<ellipse cx="572.9" cy="683.5" rx="2.4" ry="2.1" fill="#000"/>
<text transform="translate(767.00 685.04) scale(1.1 1)" font-size="8.45" text-anchor="end" fill="#222" stroke="#222" stroke-width="0.18">0.50 [0.16 - 0.84]</text>
<path d="M528.6 709.5 H678.3" stroke="#888" stroke-width="1"/>
<rect x="674.5" y="706.1" width="7.6" height="6.8" fill="#a0a0a0"/>
<ellipse cx="678.3" cy="709.5" rx="2.4" ry="2.1" fill="#000"/>
<text transform="translate(767.00 710.66) scale(1.1 1)" font-size="8.45" text-anchor="end" fill="#222" stroke="#222" stroke-width="0.18">1.00 [0.29 - 1.00]</text>
<path d="M528.6 735.5 H678.3" stroke="#888" stroke-width="1"/>
<rect x="674.5" y="732.1" width="7.6" height="6.8" fill="#a0a0a0"/>
<ellipse cx="678.3" cy="735.5" rx="2.4" ry="2.1" fill="#000"/>
<text transform="translate(767.00 736.28) scale(1.1 1)" font-size="8.45" text-anchor="end" fill="#222" stroke="#222" stroke-width="0.18">1.00 [0.29 - 1.00]</text>
<path d="M551.8 760.5 H678.3" stroke="#888" stroke-width="1"/>
<rect x="674.5" y="757.1" width="7.6" height="6.8" fill="#a0a0a0"/>
<ellipse cx="678.3" cy="760.5" rx="2.4" ry="2.1" fill="#000"/>
<text transform="translate(767.00 761.90) scale(1.1 1)" font-size="8.45" text-anchor="end" fill="#222" stroke="#222" stroke-width="0.18">1.00 [0.40 - 1.00]</text>
<path d="M617.2 786.5 H678.3" stroke="#888" stroke-width="1"/>
<rect x="661.9" y="783.1" width="7.6" height="6.8" fill="#a0a0a0"/>
<ellipse cx="665.7" cy="786.5" rx="2.4" ry="2.1" fill="#000"/>
<text transform="translate(767.00 787.52) scale(1.1 1)" font-size="8.45" text-anchor="end" fill="#222" stroke="#222" stroke-width="0.18">0.94 [0.71 - 1.00]</text>
<text transform="translate(430.50 556.84) scale(1.1 1)" font-size="8.45" fill="#222" stroke="#222" stroke-width="0.18">In-house IHC</text>
<text transform="translate(433.10 582.46) scale(1.1 1)" font-size="8.45" fill="#222" stroke="#222" stroke-width="0.18">GSE126683</text>
<text transform="translate(433.20 608.08) scale(1.1 1)" font-size="8.45" fill="#222" stroke="#222" stroke-width="0.18">GSE118719</text>
<text transform="translate(436.40 633.70) scale(1.1 1)" font-size="8.45" fill="#222" stroke="#222" stroke-width="0.18">GSE61218</text>
<text transform="translate(436.40 659.32) scale(1.1 1)" font-size="8.45" fill="#222" stroke="#222" stroke-width="0.18">GSE53819</text>
<text transform="translate(436.40 684.94) scale(1.1 1)" font-size="8.45" fill="#222" stroke="#222" stroke-width="0.18">GSE40290</text>
<text transform="translate(436.40 710.56) scale(1.1 1)" font-size="8.45" fill="#222" stroke="#222" stroke-width="0.18">GSE39826</text>
<text transform="translate(436.40 736.18) scale(1.1 1)" font-size="8.45" fill="#222" stroke="#222" stroke-width="0.18">GSE13597</text>
<text transform="translate(386.50 761.80) scale(1.1 1)" font-size="8.45" fill="#222" stroke="#222" stroke-width="0.18">GPL11154(GSE68799,</text>
<text transform="translate(386.50 771.30) scale(1.1 1)" font-size="8.45" fill="#222" stroke="#222" stroke-width="0.18">GSE63381,GSE102349)</text>
<text transform="translate(388.50 787.42) scale(1.1 1)" font-size="8.45" fill="#222" stroke="#222" stroke-width="0.18">GPL570(GSE64634,</text>
<text transform="translate(388.50 796.92) scale(1.1 1)" font-size="8.45" fill="#222" stroke="#222" stroke-width="0.18">GSE34573,GSE12452)</text>
<path d="M625.6 837.7 L665.7 832.6 L676.2 837.7 L665.7 842.8 Z" fill="#fff" stroke="#222" stroke-width="0.9"/>
<text transform="translate(436.60 838.86) scale(1.1 1)" font-size="8.45" fill="#222" stroke="#222" stroke-width="0.18">COMBINED</text>
<text transform="translate(704.30 838.86) scale(1.1 1)" font-size="8.45" fill="#222" stroke="#222" stroke-width="0.18">0.94[0.75 - 0.99]</text>
<text transform="translate(701.80 865.10) scale(1.1 1)" font-size="8.45" fill="#222" stroke="#222" stroke-width="0.18">Q = 84.61, df = 9.00,</text>
<text transform="translate(701.80 874.10) scale(1.1 1)" font-size="8.45" fill="#222" stroke="#222" stroke-width="0.18">p =  0.00</text>
<text transform="translate(701.80 890.30) scale(1.1 1)" font-size="8.45" fill="#222" stroke="#222" stroke-width="0.18">I2 = 89.36 [84.11 -</text>
<text transform="translate(701.80 899.30) scale(1.1 1)" font-size="8.45" fill="#222" stroke="#222" stroke-width="0.18">94.62]</text>
<path d="M500.5 897 V901.5" stroke="#8a8a8a" stroke-width="1"/>
<text transform="translate(500.40 908.60) scale(1.1 1)" font-size="8.45" text-anchor="middle" fill="#222" stroke="#222" stroke-width="0.18">0.2</text>
<path d="M678.5 897 V901.5" stroke="#8a8a8a" stroke-width="1"/>
<text transform="translate(678.30 908.60) scale(1.1 1)" font-size="8.45" text-anchor="middle" fill="#222" stroke="#222" stroke-width="0.18">1.0</text>
<text transform="translate(566.50 914.80) scale(1.1 1)" font-size="8.45" fill="#222" stroke="#222" stroke-width="0.18">SPECIFICITY</text>
</svg></body></html>
